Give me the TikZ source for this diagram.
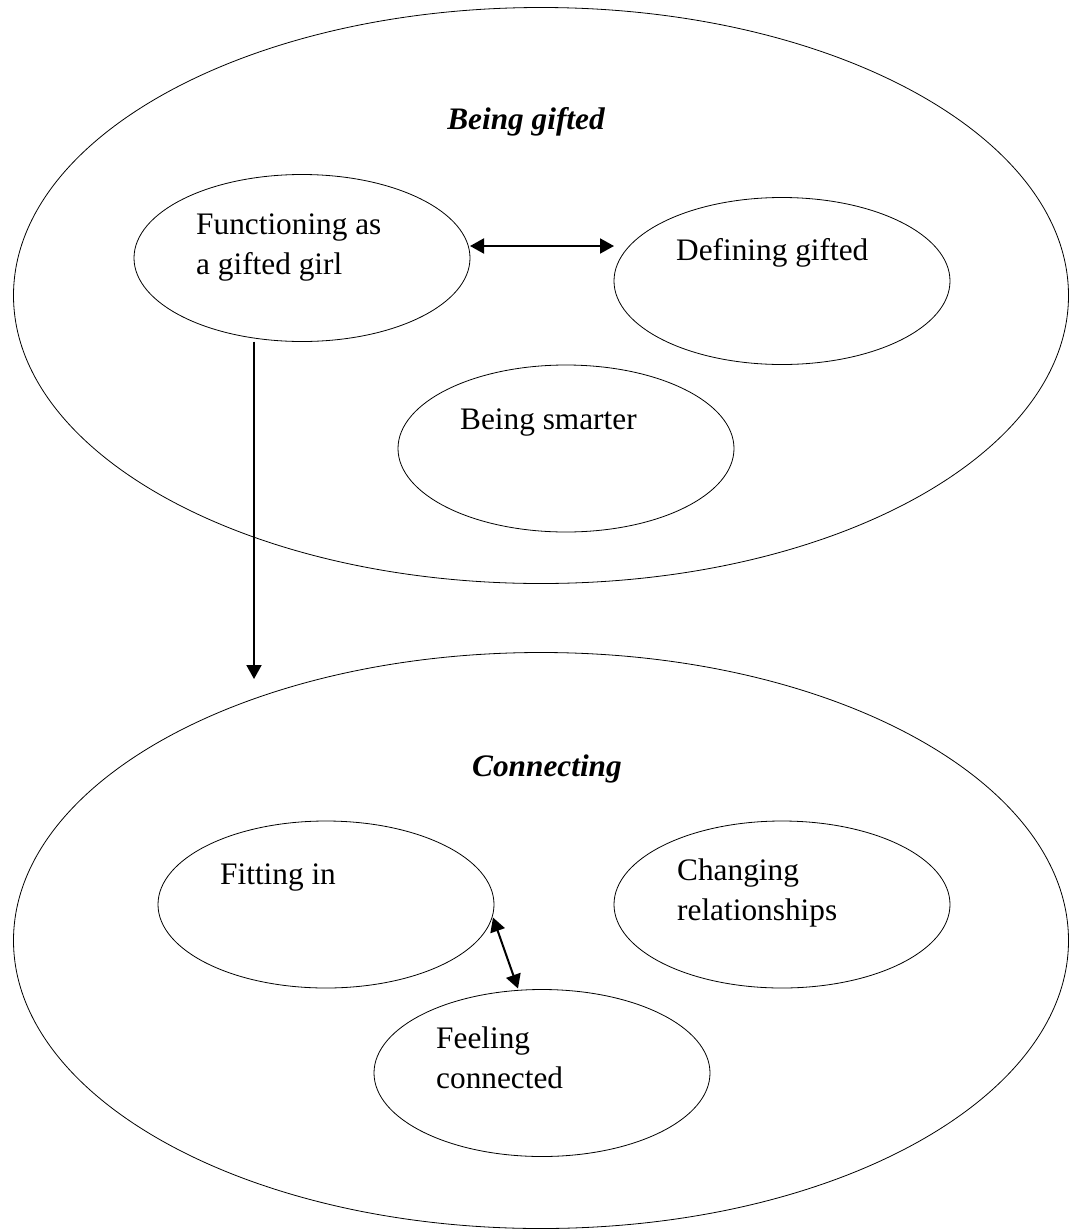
\documentclass[tikz,border=0pt]{standalone}
\usepackage{fontspec}
\setmainfont{Liberation Serif}
\usetikzlibrary{shapes.geometric,arrows.meta,calc}

\tikzset{
  theme/.style={draw, ellipse, line width=0.8pt, inner sep=0pt, outer sep=0pt,
                minimum width=1055pt, minimum height=576pt},
  cat/.style={draw, ellipse, line width=0.8pt, inner sep=0pt, outer sep=0pt,
              minimum width=336pt, minimum height=167pt},
  lbl/.style={anchor=base west, align=left, inner sep=0pt,
              font=\fontsize{31.3}{40}\selectfont},
  ttl/.style={anchor=base, inner sep=0pt,
              font=\fontsize{31.3}{40}\selectfont\bfseries\itshape},
  link/.style={line width=2pt, -{Triangle[length=14pt,width=15pt]}},
  dbl/.style={line width=2pt, {Triangle[length=14pt,width=15pt]}-{Triangle[length=14pt,width=15pt]}}
}

\begin{document}
\begin{tikzpicture}[x=1pt, y=-1pt]
  \useasboundingbox (0,0) rectangle (1073,1229);

  % upper theme
  \node[theme] (gift) at (541,295.5) {};
  \node[ttl] (giftT) at (526,129) {Being gifted};
  \node[cat] (func) at (302,258) {};
  \node[cat] (def)  at (782,281) {};
  \node[cat] (smart) at (566,448.5) {};
  % two-line labels: the base anchor sits on the last line
  \node[lbl] (funcT) at (196,274) {Functioning as\\a gifted girl};
  \node[lbl] (defT) at (676,260) {Defining gifted};
  \node[lbl] (smartT) at (460,429) {Being smarter};

  % lower theme
  \node[theme] (conn) at (541,940.5) {};
  \node[ttl] (connT) at (547,776) {Connecting};
  \node[cat] (fit) at (326,904.5) {};
  \node[cat] (chg) at (782,904.5) {};
  \node[cat] (feel) at (542,1073) {};
  \node[lbl] (fitT) at (220,884) {Fitting in};
  \node[lbl] (chgT) at (677,920) {Changing\\relationships};
  \node[lbl] (feelT) at (436,1088) {Feeling\\connected};

  % connectors
  \coordinate (drop) at (254,679);
  \draw[dbl] (func.east |- 0,246) -- (def.west |- 0,246);
  \draw[link] (254,0 |- func.south) -- (drop);
  \draw[dbl] ($(fit.east)+(-1,13)$) -- ($(feel.north)+(-24,-1)$);
\end{tikzpicture}
\end{document}
